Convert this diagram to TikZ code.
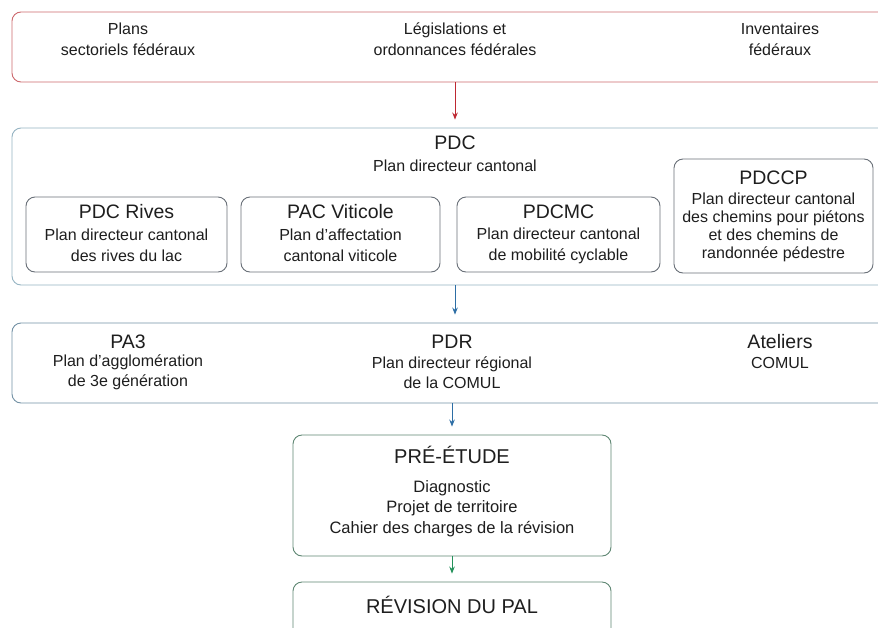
\documentclass[tikz,border=0pt]{standalone}
\usepackage{fontspec}
\setmainfont{Liberation Sans}
\usetikzlibrary{arrows.meta}
\definecolor{redline}{RGB}{205,105,110}
\definecolor{redarrow}{RGB}{190,40,50}
\definecolor{pdcline}{RGB}{150,180,195}
\definecolor{innerline}{RGB}{105,112,120}
\definecolor{rowline}{RGB}{115,145,165}
\definecolor{bluearrow}{RGB}{45,110,165}
\definecolor{preline}{RGB}{95,135,115}
\definecolor{greenarrow}{RGB}{35,145,90}
\definecolor{txtcol}{RGB}{30,30,30}
\newcommand\fbody{\fontsize{16}{21}\selectfont}
\newcommand\ftitle{\fontsize{19.5}{23}\selectfont}
\tikzset{
  boxshape/.style={draw, rounded corners=9pt, inner sep=0pt, line width=0.9pt},
  txt/.style={inner sep=0pt, align=center, text=txtcol},
  conn/.style={-{Stealth[length=7pt,width=5.5pt]}, line width=1pt, shorten >=8pt}
}
\begin{document}
\begin{tikzpicture}[x=1pt,y=-1pt]
\useasboundingbox (0,0) rectangle (878,627);
\clip (0,0) rectangle (878,627);
\fill[white] (0,0) rectangle (878,627);
% boxes
\node[boxshape, draw=redline, minimum width=886pt, minimum height=70pt] (top) at (455,47) {};
\node[boxshape, draw=pdcline, minimum width=886pt, minimum height=157pt] (pdc) at (455,206.5) {};
\node[boxshape, draw=innerline, minimum width=201pt, minimum height=75pt] (rives) at (126.5,234.5) {};
\node[boxshape, draw=innerline, minimum width=199pt, minimum height=75pt] (pac) at (340.5,234.5) {};
\node[boxshape, draw=innerline, minimum width=203pt, minimum height=75pt] (pdcmc) at (558.5,234.5) {};
\node[boxshape, draw=innerline, minimum width=199pt, minimum height=114pt] (pdccp) at (773.5,216) {};
\node[boxshape, draw=rowline, minimum width=886pt, minimum height=80pt] (row) at (455,363) {};
\node[boxshape, draw=preline, minimum width=318pt, minimum height=121pt] (pre) at (452,495.5) {};
\node[boxshape, draw=preline, minimum width=318pt, minimum height=68pt] (rev) at (452,616) {};
% connectors
\draw[conn, color=redarrow] (top) -- (pdc);
\draw[conn, color=bluearrow] (pdc) -- (row);
\draw[conn, color=bluearrow] (pre.north |- row.south) -- (pre.north);
\draw[conn, color=greenarrow] (pre) -- (rev);
% top texts
\node[txt, font=\fbody] (t1) at (128,39) {Plans\\sectoriels fédéraux};
\node[txt, font=\fbody] (t2) at (455,39) {Législations et\\ordonnances fédérales};
\node[txt, font=\fbody] (t3) at (780,39) {Inventaires\\fédéraux};
% PDC
\node[txt, font=\ftitle] (pdct) at (455,143) {PDC};
\node[txt, font=\fbody] (pdcs) at (455,166) {Plan directeur cantonal};
\node[txt, font=\ftitle] (rivest) at (126.5,212) {PDC Rives};
\node[txt, font=\fbody] (rivesb) at (126.5,245.5) {Plan directeur cantonal\\des rives du lac};
\node[txt, font=\ftitle] (pact) at (340.5,212) {PAC Viticole};
\node[txt, font=\fbody] (pacb) at (340.5,245.5) {Plan d’affectation\\cantonal viticole};
\node[txt, font=\ftitle] (pdcmct) at (558.5,212) {PDCMC};
\node[txt, font=\fbody] (pdcmcb) at (558.5,245.5) {Plan directeur cantonal\\de mobilité cyclable};
\node[txt, font=\ftitle] (pdccpt) at (773.5,178) {PDCCP};
\node[txt, font=\fontsize{16}{18}\selectfont] (pdccpb) at (773.5,227.5) {Plan directeur cantonal\\des chemins pour piétons\\et des chemins de\\randonnée pédestre};
% row 3
\node[txt, font=\ftitle] (pa3t) at (128,342) {PA3};
\node[txt, font=\fontsize{16}{19.5}\selectfont] (pa3b) at (128,372.5) {Plan d’agglomération\\de 3e génération};
\node[txt, font=\ftitle] (pdrt) at (452,342) {PDR};
\node[txt, font=\fontsize{16}{19.5}\selectfont] (pdrb) at (452,372.5) {Plan directeur régional\\de la COMUL};
\node[txt, font=\ftitle] (atet) at (780,342) {Ateliers};
\node[txt, font=\fbody] (ateb) at (780,363) {COMUL};
% pre-etude
\node[txt, font=\fontsize{20}{24}\selectfont] (pret) at (452,455) {PRÉ-ÉTUDE};
\node[txt, font=\fontsize{16.5}{20.5}\selectfont] (preb) at (452,508.5) {Diagnostic\\Projet de territoire\\Cahier des charges de la révision};
\node[txt, font=\fontsize{20}{24}\selectfont] (revt) at (452,605) {RÉVISION DU PAL};
\end{tikzpicture}
\end{document}
